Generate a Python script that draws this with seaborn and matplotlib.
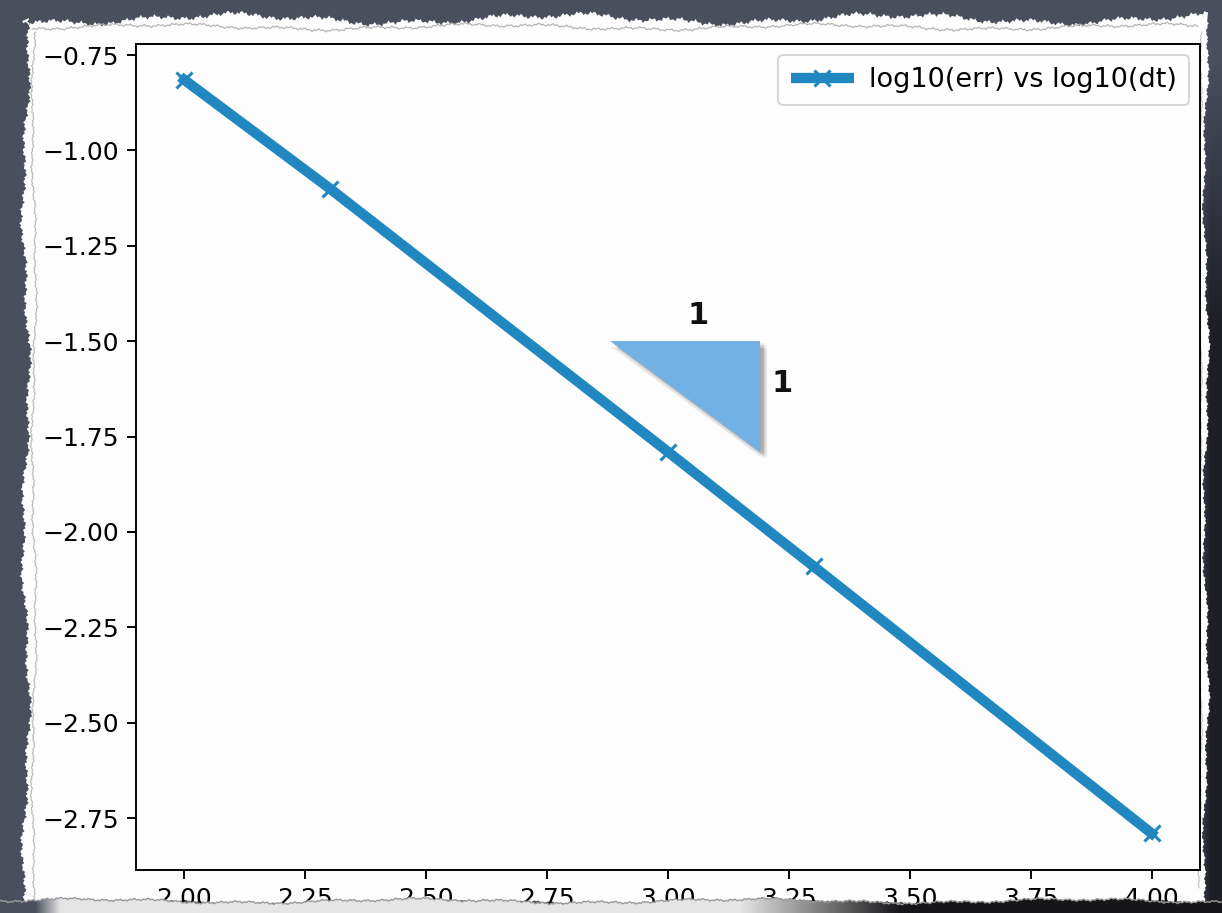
import numpy as np
import matplotlib
matplotlib.use("Agg")
import matplotlib.pyplot as plt
import matplotlib.patheffects as pe
from matplotlib.patches import Polygon
import seaborn as sns

# convergence data
log_dt = [2.0, 2.301, 3.0, 3.301, 4.0]
log_err = [-0.815, -1.10, -1.79, -2.09, -2.79]
series_label = "log10(err) vs log10(dt)"

# slope-1 reference triangle and its side labels
tri_x = [2.88, 3.19, 3.19]
tri_y = [-1.50, -1.50, -1.79]
side_labels = ["1", "1"]

W, H = 1222, 913
LINE_COLOR = "#2187c0"
SLATE = np.array([74, 79, 94]) / 255.0

sns.set_style("ticks")
plt.rcParams["font.family"] = ["DejaVu Sans"]
plt.rcParams["axes.edgecolor"] = "black"
plt.rcParams["xtick.color"] = "black"
plt.rcParams["ytick.color"] = "black"
plt.rcParams["text.color"] = "black"
plt.rcParams["lines.solid_capstyle"] = "projecting"

fig = plt.figure(figsize=(W / 100, H / 100), dpi=100)
fig.patch.set_facecolor(SLATE)


def tear(t, amp, phase):
    t = np.asarray(t, dtype=float)
    return amp * (0.45 * np.sin(t * 0.019 + phase)
                  + 0.25 * np.sin(t * 0.071 + 2.1 * phase)
                  + 0.15 * np.sin(t * 0.43 + 3.3 * phase)
                  + 0.15 * np.sin(t * 1.37 + phase))


# ---- backdrop: slate board with a dark shadow on the right edge
bg = fig.add_axes([0, 0, 1, 1], zorder=0)
bg.set_xlim(0, W)
bg.set_ylim(H, 0)
bg.axis("off")

yy, xx = np.mgrid[0:H, 0:W]
shade_r = np.clip((xx - 1196) / 14.0, 0, 1) * np.clip((yy - 60) / 260.0, 0, 1)
img = np.ones((H, W, 3)) * SLATE
img = img * (1 - 0.6 * shade_r[..., None])
bg.imshow(img, extent=(0, W, H, 0), aspect="auto", zorder=0)

# paper sheet with torn edges
tx = np.linspace(22, 1208, 700)
ty = np.linspace(18, 902, 500)
top = np.column_stack([tx, 19 + tear(tx, 9, 0.3)])
right = np.column_stack([1206 + tear(ty, 5, 1.1), ty])
bottom = np.column_stack([tx[::-1], 903 + tear(tx[::-1], 4, 2.0)])
left = np.column_stack([26 + tear(ty[::-1], 7, 0.7), ty[::-1]])
paper = Polygon(np.vstack([top, right, bottom, left]), closed=True,
                facecolor="#fdfdfd", edgecolor="none", zorder=1)
bg.add_patch(paper)

# inner torn layer line
inner_top_y = 27 + tear(tx, 5, 1.7)
bg.plot(tx[6:-6], inner_top_y[6:-6], color="#b5b5b5", lw=0.9, zorder=2)
inner_left_x = 34 + tear(ty, 4, 2.4)
bg.plot(inner_left_x[8:], ty[8:], color="#bdbdbd", lw=0.9, zorder=2)
inner_right_x = 1200 + tear(ty, 3, 0.2)
bg.plot(inner_right_x[8:-8], ty[8:-8], color="#c4c4c4", lw=0.8, zorder=2)

# ---- main chart
ax = fig.add_axes([136 / W, (H - 870) / H, 1064 / W, 826 / H], zorder=2)
ax.set_facecolor("#fdfdfd")

sns.lineplot(x=log_dt, y=log_err, ax=ax, sort=False, color=LINE_COLOR,
             linewidth=7.4, marker="x", markersize=12,
             markeredgewidth=2.2, markeredgecolor=LINE_COLOR,
             solid_capstyle="projecting", label=series_label)

ax.set_xlim(1.9, 4.1)
ax.set_ylim(-2.886, -0.721)
ax.set_xticks(np.arange(2.0, 4.01, 0.25))
ax.set_yticks(np.arange(-2.75, -0.74, 0.25))
ax.xaxis.set_major_formatter(matplotlib.ticker.FormatStrFormatter("%.2f"))
ax.yaxis.set_major_formatter(matplotlib.ticker.FuncFormatter(
    lambda v, p: f"{v:.2f}".replace("-", "\u2212")))
ax.tick_params(labelsize=18, length=6.3, width=1.4, pad=6)
for s in ax.spines.values():
    s.set_linewidth(1.4)
    s.set_visible(True)
ax.grid(False)

leg = ax.legend(loc="upper right", fontsize=19.5, handlelength=2.35,
                handletextpad=0.55, borderaxespad=0.4, borderpad=0.45,
                frameon=True, fancybox=True)
leg.get_frame().set_edgecolor("#cccccc")
leg.get_frame().set_linewidth(1.4)
for t in leg.get_texts():
    t.set_color("black")
for h in leg.legend_handles:
    h.set_solid_capstyle("butt")

tri = ax.fill(tri_x, tri_y, color="#72b1e3", zorder=4, lw=0)[0]
shadows = [pe.SimplePatchShadow(offset=(dx, dy), shadow_rgbFace="black", alpha=0.05)
           for dx, dy in [(5, -5), (4, -4), (3, -3), (2, -2), (4, -1), (1, -4), (5, -3), (3, -5)]]
tri.set_path_effects(shadows + [pe.Normal()])

ax.text(3.063, -1.433, side_labels[0],
        ha="center", va="center", fontsize=22, fontweight="bold", color="#111111")
ax.text(3.236, -1.612, side_labels[1],
        ha="center", va="center", fontsize=22, fontweight="bold", color="#111111")

# ---- torn lower edge drawn over the cut-off tick labels
ov = fig.add_axes([0, 0, 1, 1], zorder=5)
ov.set_xlim(0, W)
ov.set_ylim(H, 0)
ov.axis("off")
ov.patch.set_alpha(0)

bx = np.linspace(0, W, 800)
by = 901 + tear(bx, 4, 3.1)
strip = Polygon(np.vstack([np.column_stack([bx, by]), [[W, H], [0, H]]]),
                closed=True, facecolor="none", edgecolor="none")
ov.add_patch(strip)
gx = np.linspace(0, 1, W)
c_light = np.array([0.90, 0.90, 0.90])
c_dark = np.array([0.09, 0.09, 0.10])
mix = np.clip((gx * W - 740) / 160.0, 0, 1)[:, None]
row = c_light * (1 - mix) + c_dark * mix
edge_mix = np.clip((60 - gx * W) / 25.0, 0, 1)[:, None]
row = row * (1 - edge_mix) + SLATE * edge_mix
grad = np.repeat(row[None, :, :], 20, axis=0)
im = ov.imshow(grad, extent=(0, W, H, 885), aspect="auto", zorder=1)
im.set_clip_path(strip)
ov.plot(bx, by, color="#9a9a9a", lw=1.0, zorder=2)

fig.savefig("out.png", dpi=100, facecolor=fig.get_facecolor())
